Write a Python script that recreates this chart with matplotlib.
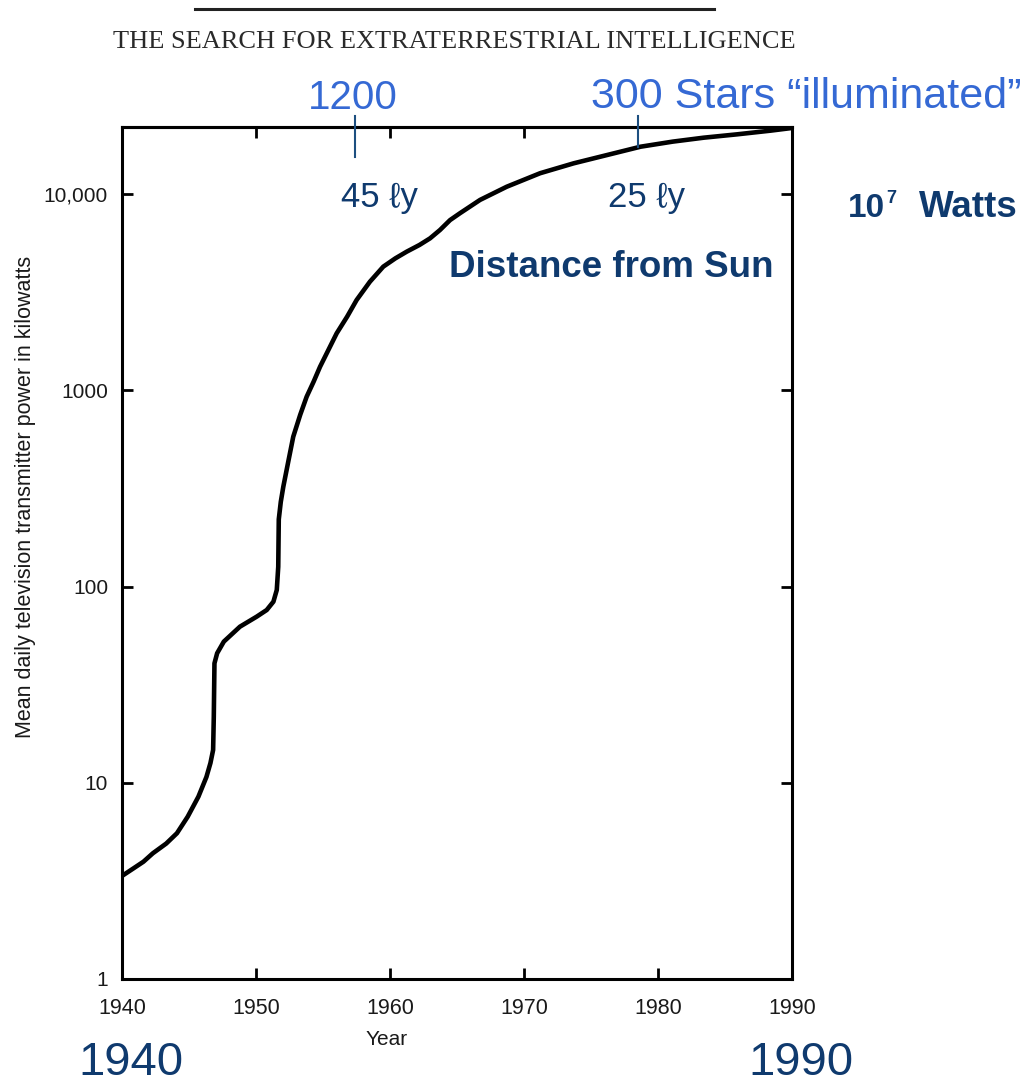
import matplotlib
matplotlib.use("Agg")
import matplotlib.pyplot as plt
import numpy as np

# ---------------- data ----------------
years = [1940.0, 1940.85, 1941.6, 1942.3, 1943.3, 1944.1, 1944.9, 1945.7, 1946.3,
         1946.6, 1946.8, 1946.85, 1946.9, 1947.1, 1947.6, 1948.8, 1950.05, 1950.8,
         1951.3, 1951.55, 1951.66, 1951.7, 1951.85, 1952.04, 1952.4, 1952.78,
         1953.3, 1953.78, 1954.3, 1954.78, 1955.4, 1956.02, 1956.8, 1957.51,
         1958.5, 1959.5, 1960.4, 1961.25, 1962.2, 1962.99, 1963.73, 1964.48,
         1965.22, 1966.72, 1968.71, 1971.2, 1973.7, 1976.2, 1978.7, 1981.1,
         1983.4, 1985.9, 1988.4, 1990.0]
power_kw = [3.35, 3.66, 3.96, 4.37, 4.9, 5.53, 6.71, 8.49, 10.7,
            12.6, 14.7, 21.7, 40.6, 45.7, 52.4, 62.4, 70.2, 75.9,
            83.7, 96, 126, 220, 270, 323, 430, 580,
            750, 927, 1106, 1318, 1603, 1950, 2371, 2884,
            3573, 4265, 4700, 5085, 5500, 5945, 6555, 7362,
            7980, 9330, 10890, 12760, 14330, 15800, 17420, 18490,
            19360, 20140, 21030, 21700]

x_ticks = [1940, 1950, 1960, 1970, 1980, 1990]
x_tick_labels = ["1940", "1950", "1960", "1970", "1980", "1990"]
y_ticks = [1, 10, 100, 1000, 10000]
y_tick_labels = ["1", "10", "100", "1000", "10,000"]
top_ticks = [1950, 1960, 1970]

marker_years = [1957.4, 1978.5]          # "1200" and "300 Stars" markers
marker_bottoms = [15450, 17300]          # lower end of each marker (kW)

# ---------------- figure ----------------
W, H = 1036, 1086
fig = plt.figure(figsize=(W / 100, H / 100), dpi=100)
fig.patch.set_facecolor("white")

def fx(x):
    return x / W

def fy(y):
    return 1 - y / H

SANS = ["Liberation Sans", "DejaVu Sans"]
LIGHT = "#3569d4"
DARK = "#0f3a6e"
INK = "#1a1a1a"

left, right, top, bottom = 122, 792, 127, 979
ax = fig.add_axes([fx(left), fy(bottom), fx(right - left), (bottom - top) / H])

ax.plot(years, power_kw, color="black", lw=3.3, solid_capstyle="round",
        solid_joinstyle="round", zorder=3)

ax.set_yscale("log")
ax.set_xlim(1940, 1990)
ax.set_ylim(1, 21950)

ax.set_xticks(x_ticks)
ax.set_xticklabels(x_tick_labels, fontsize=15.5, family=SANS, color=INK)
ax.set_yticks(y_ticks)
ax.set_yticklabels(y_tick_labels, fontsize=15, family=SANS, color=INK)
ax.yaxis.set_minor_locator(matplotlib.ticker.NullLocator())
ax.tick_params(axis="both", which="major", direction="in", length=8, width=2,
               color="black")
ax.tick_params(axis="y", right=True, pad=10)
ax.tick_params(axis="x", pad=14)

sec = ax.secondary_xaxis("top")
sec.set_xticks(top_ticks)
sec.set_xticklabels([])
sec.tick_params(direction="in", length=8, width=2)
sec.spines["top"].set_linewidth(2.2)

for s in ax.spines.values():
    s.set_linewidth(2.2)
    s.set_color("black")

# blue marker lines
for yr, yb in zip(marker_years, marker_bottoms):
    ax.plot([yr, yr], [yb, 25000], color="#1d4f80", lw=1.5, clip_on=False, zorder=4)

# ---------------- texts ----------------
fig.add_artist(plt.Line2D([fx(195), fx(714)], [fy(8.5), fy(8.5)], color="#222222", lw=2.2))
fig.text(fx(454), fy(47.5), "THE SEARCH FOR EXTRATERRESTRIAL INTELLIGENCE",
         ha="center", va="baseline", fontsize=19, family=["Liberation Serif", "DejaVu Serif"],
         color="#2a2a2a")

fig.text(fx(308), fy(109), "1200", ha="left", va="baseline", fontsize=29,
         family=SANS, color=LIGHT)
fig.text(fx(591), fy(108), "300 Stars \u201cilluminated\u201d", ha="left", va="baseline",
         fontsize=31, family=SANS, color=LIGHT)

fig.text(fx(341), fy(207), "45 \u2113y", ha="left", va="baseline", fontsize=25,
         family=SANS, color=DARK)
fig.text(fx(608), fy(207), "25 \u2113y", ha="left", va="baseline", fontsize=25,
         family=SANS, color=DARK)

fig.text(fx(848), fy(217), "10", ha="left", va="baseline", fontsize=24,
         family=SANS, weight="bold", color=DARK)
fig.text(fx(886), fy(203), "7", ha="left", va="baseline", fontsize=13,
         family=SANS, weight="bold", color=DARK)
fig.text(fx(919), fy(217), "Watts", ha="left", va="baseline", fontsize=26.5,
         family=SANS, weight="bold", color=DARK)

fig.text(fx(449), fy(277), "Distance from Sun", ha="left", va="baseline", fontsize=26.5,
         family=SANS, weight="bold", color=DARK)

fig.text(fx(78), fy(1085), "1940", ha="left", va="bottom", fontsize=34,
         family=SANS, color=DARK)
fig.text(fx(748), fy(1085), "1990", ha="left", va="bottom", fontsize=34,
         family=SANS, color=DARK)

fig.text(fx(387), fy(1045), "Year", ha="center", va="baseline", fontsize=15,
         family=SANS, color=INK)
fig.text(fx(26), fy(497), "Mean daily television transmitter power in kilowatts",
         rotation=90, ha="center", va="center", fontsize=15.5,
         family=SANS, color=INK)

fig.savefig("out.png", dpi=100, facecolor="white")
